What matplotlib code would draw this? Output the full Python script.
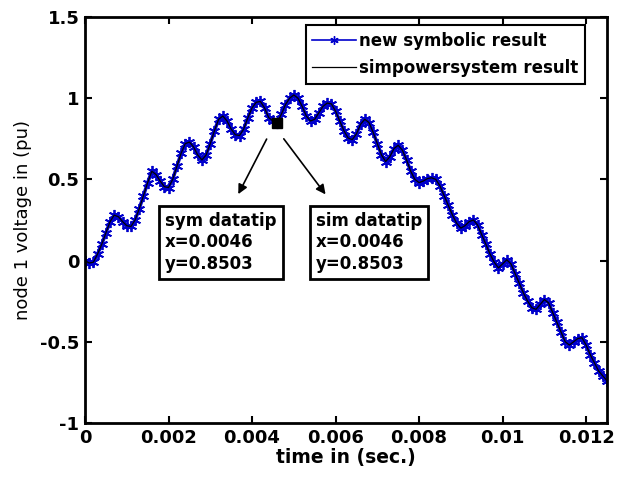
import numpy as np
import matplotlib
matplotlib.use("Agg")
import matplotlib.pyplot as plt

# node 1 voltage, sampled every 0.1 ms
time_s = np.arange(126) * 1e-4
sym_voltage = [
    0.00, -0.015, -0.01, 0.04, 0.10, 0.17, 0.24, 0.28, 0.27, 0.24,
    0.215, 0.21, 0.25, 0.32, 0.40, 0.48, 0.55, 0.53, 0.49, 0.455,
    0.45, 0.50, 0.58, 0.66, 0.72, 0.73, 0.70, 0.65, 0.62, 0.65,
    0.72, 0.80, 0.87, 0.89, 0.86, 0.81, 0.775, 0.77, 0.81, 0.88,
    0.94, 0.975, 0.98, 0.94, 0.88, 0.86, 0.8503, 0.90, 0.96, 1.00,
    1.02, 1.00, 0.95, 0.89, 0.86, 0.87, 0.91, 0.95, 0.97, 0.965,
    0.92, 0.86, 0.80, 0.755, 0.745, 0.78, 0.84, 0.87, 0.85, 0.79,
    0.72, 0.65, 0.61, 0.64, 0.69, 0.71, 0.68, 0.62, 0.55, 0.50,
    0.48, 0.49, 0.505, 0.51, 0.50, 0.46, 0.40, 0.34, 0.28, 0.23,
    0.20, 0.215, 0.24, 0.25, 0.22, 0.16, 0.10, 0.04, -0.01, -0.045,
    -0.02, 0.005, -0.02, -0.08, -0.14, -0.20, -0.25, -0.29, -0.30, -0.27,
    -0.24, -0.26, -0.32, -0.38, -0.44, -0.50, -0.52, -0.50, -0.48, -0.475,
    -0.52, -0.58, -0.63, -0.68, -0.71, -0.74,
]
# simpowersystem result coincides with the symbolic one
sim_voltage = list(sym_voltage)

tip_t = 0.0046
tip_v = 0.8503

xticks = [0, 0.002, 0.004, 0.006, 0.008, 0.01, 0.012]
xticklabels = ["0", "0.002", "0.004", "0.006", "0.008", "0.01", "0.012"]
yticks = [-1, -0.5, 0, 0.5, 1, 1.5]
yticklabels = ["-1", "-0.5", "0", "0.5", "1", "1.5"]

plt.rcParams["font.family"] = "DejaVu Sans"

fig = plt.figure(figsize=(6.21, 4.79), dpi=100)
ax = fig.add_axes([85 / 621, 1 - 423 / 479, 522 / 621, 406 / 479])

ax.plot(time_s, sym_voltage, color="#0000cc", lw=2.5, marker=(6, 2, 0),
        ms=8, mew=1.3, label="new symbolic result")
ax.plot(time_s, sim_voltage, color="black", lw=0.9, label="simpowersystem result")
ax.plot([tip_t], [tip_v], "s", color="black", ms=7)

ax.set_xlim(0, 0.0125)
ax.set_ylim(-1, 1.5)
ax.set_xticks(xticks)
ax.set_xticklabels(xticklabels, fontsize=13, fontweight="bold")
ax.set_yticks(yticks)
ax.set_yticklabels(yticklabels, fontsize=13, fontweight="bold")
ax.tick_params(direction="in", length=5, width=1.5, top=True, right=True, pad=4)
for s in ax.spines.values():
    s.set_linewidth(2)

ax.set_xlabel("time in (sec.)", fontsize=13.5, fontweight="bold", labelpad=1)
ax.set_ylabel("node 1 voltage in (pu)", fontsize=13, labelpad=6)

leg = ax.legend(loc="upper right", bbox_to_anchor=(0.958, 0.980), borderaxespad=0,
                fancybox=False, framealpha=1, edgecolor="black", numpoints=1,
                handlelength=2.6, handletextpad=0.2, labelspacing=0.55, borderpad=0.4,
                prop={"size": 12, "weight": "bold"})
leg.get_frame().set_linewidth(1.5)
leg.legend_handles[0].set_linewidth(1.2)
leg.legend_handles[0].set_markersize(6)
leg.legend_handles[0].set_markeredgewidth(1)

# datatip boxes
box = dict(boxstyle="square,pad=0.35", fc="white", ec="black", lw=2)
ax.text(0.00192, 0.30, "sym datatip\nx=0.0046\ny=0.8503", fontsize=12, fontweight="bold",
        va="top", ha="left", bbox=box, linespacing=1.25)
ax.text(0.00553, 0.30, "sim datatip\nx=0.0046\ny=0.8503", fontsize=12, fontweight="bold",
        va="top", ha="left", bbox=box, linespacing=1.25)

arrow = dict(arrowstyle="-|>", color="black", lw=1.2, mutation_scale=14)
ax.annotate("", xy=(0.00364, 0.394), xytext=(0.00438, 0.7635), arrowprops=arrow)
ax.annotate("", xy=(0.00580, 0.394), xytext=(0.00472, 0.7635), arrowprops=arrow)

fig.savefig("out.png", dpi=100, facecolor="white")
